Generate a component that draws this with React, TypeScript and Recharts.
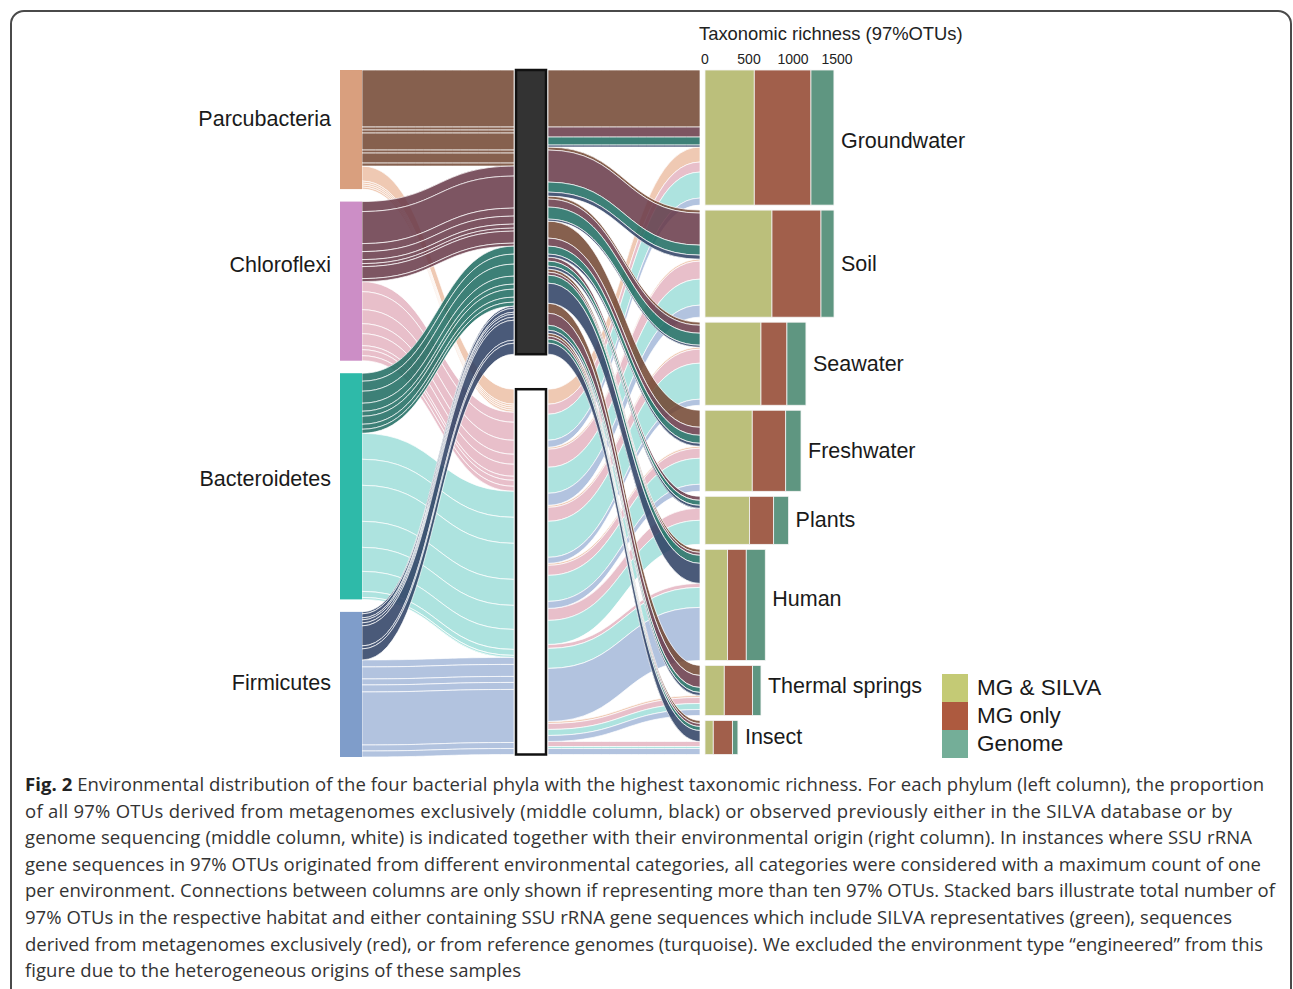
import React from 'react';
import { Sankey, ComposedChart, XAxis, YAxis, Line } from 'recharts';

// ---------------- data ----------------
const PHYLA = ['Parcubacteria', 'Chloroflexi', 'Bacteroidetes', 'Firmicutes'];
const STATUS = ['MG only', 'Known (SILVA / genome)'];
const ENVIRONMENTS = ['Groundwater', 'Soil', 'Seawater', 'Freshwater', 'Plants', 'Human', 'Thermal springs', 'Insect'];

// 97% OTUs per environment: derived exclusively from metagenomes (black middle node)
const PARC_MG_ONLY = [570, 30, 30, 170, 0, 30, 100, 30];
const CHLO_MG_ONLY = [100, 320, 80, 80, 40, 30, 120, 30];
const BACT_MG_ONLY = [80, 100, 120, 80, 50, 80, 50, 40];
const FIRM_MG_ONLY = [20, 40, 20, 30, 30, 200, 30, 110];
// 97% OTUs per environment: observed before in SILVA or genomes (white middle node)
const PARC_KNOWN = [150, 20, 20, 20, 0, 0, 20, 0];
const CHLO_KNOWN = [100, 180, 140, 100, 120, 40, 60, 50];
const BACT_KNOWN = [260, 260, 360, 260, 240, 200, 60, 20];
const FIRM_KNOWN = [70, 120, 60, 70, 0, 530, 60, 60];

// Taxonomic richness (97% OTUs) per environment
const RICH_MG_SILVA = [560, 761, 636, 537, 507, 257, 219, 94];
const RICH_MG_ONLY = [644, 557, 295, 380, 273, 212, 322, 219];
const RICH_GENOME = [261, 148, 216, 174, 170, 216, 95, 61];

const RICH_TICKS = [0, 500, 1000, 1500];
const RICH_SERIES = ['MG & SILVA', 'MG only', 'Genome'];

const CAPTION_LINES = [
  'Environmental distribution of the four bacterial phyla with the highest taxonomic richness. For each phylum (left column), the proportion',
  'of all 97% OTUs derived from metagenomes exclusively (middle column, black) or observed previously either in the SILVA database or by',
  'genome sequencing (middle column, white) is indicated together with their environmental origin (right column). In instances where SSU rRNA',
  'gene sequences in 97% OTUs originated from different environmental categories, all categories were considered with a maximum count of one',
  'per environment. Connections between columns are only shown if representing more than ten 97% OTUs. Stacked bars illustrate total number of',
  '97% OTUs in the respective habitat and either containing SSU rRNA gene sequences which include SILVA representatives (green), sequences',
  'derived from metagenomes exclusively (red), or from reference genomes (turquoise). We excluded the environment type \u201Cengineered\u201D from this',
  'figure due to the heterogeneous origins of these samples',
];

// ---------------- styles ----------------
const FONT = '"Liberation Sans", Arial, Helvetica, sans-serif';
const PHYLUM_COLORS = ['#d99f7e', '#cc8ec6', '#2ebaa9', '#7f9dca'];
const DARK_LINK = ['#71442f', '#663747', '#1b6a5f', '#2a3d62'];
const LIGHT_LINK = ['#ecbfa6', '#e4b4c1', '#9fded9', '#a4b8d9'];
const BAR_COLORS = ['#bbbf7b', '#a15f4b', '#5f9681'];
const LEGEND_COLORS = ['#c4ca75', '#ad5a3f', '#74ae98'];
const LEFT_LABEL_NUDGE: Record<string, number> = { Parcubacteria: -11, Chloroflexi: -16, Bacteroidetes: -7, Firmicutes: -1 };
const RIGHT_LABEL_NUDGE: Record<string, number> = { Groundwater: 3, Human: -6, 'Thermal springs': -4 };
const CAPTION_WIDTHS = [1239, 1207, 1227, 1236, 1250, 1207, 1238, 496];

const AXIS_MAX = 1500;
const AXIS_PX = 132;
const BAR_OFFSET = 5;

const NODE_WIDTH = 34;
const NODE_PADDING = 2.5;
const LEFT_SPACERS = 4;
const MID_SPACERS = 13;
const RIGHT_SPACERS = 1;

// ---------------- sankey data build ----------------
const nodes: any[] = [];
const idx: Record<string, number> = {};
const addNode = (key: string, node: any) => {
  idx[key] = nodes.length;
  nodes.push(node);
};

PHYLA.forEach((p, i) => {
  if (i > 0) for (let k = 0; k < LEFT_SPACERS; k++) addNode(`ls${i}_${k}`, { name: '', kind: 'spacer' });
  addNode(p, { name: p, kind: 'phylum', color: PHYLUM_COLORS[i] });
});
addNode('MG', { name: STATUS[0], kind: 'status', dark: true });
for (let k = 0; k < MID_SPACERS; k++) addNode(`ms${k}`, { name: '', kind: 'spacer' });
addNode('KN', { name: STATUS[1], kind: 'status', dark: false });
ENVIRONMENTS.forEach((e, i) => {
  if (i > 0) for (let k = 0; k < RIGHT_SPACERS; k++) addNode(`rs${i}_${k}`, { name: '', kind: 'spacer' });
  addNode(e, { name: e, kind: 'env', env: i });
});

const links: any[] = [];
// invisible zero-width links that keep spacer nodes in their columns
PHYLA.forEach((_, i) => {
  if (i > 0) for (let k = 0; k < LEFT_SPACERS; k++) links.push({ source: idx[`ls${i}_${k}`], target: idx.MG, value: 0 });
});
for (let k = 0; k < MID_SPACERS; k++) {
  links.push({ source: idx[PHYLA[0]], target: idx[`ms${k}`], value: 0 });
  links.push({ source: idx[`ms${k}`], target: idx[ENVIRONMENTS[0]], value: 0 });
}
ENVIRONMENTS.forEach((_, i) => {
  if (i > 0) for (let k = 0; k < RIGHT_SPACERS; k++) links.push({ source: idx.MG, target: idx[`rs${i}_${k}`], value: 0 });
});

const FLOWS = [
  { phylum: 0, status: 'KN', values: PARC_KNOWN },
  { phylum: 1, status: 'KN', values: CHLO_KNOWN },
  { phylum: 2, status: 'KN', values: BACT_KNOWN },
  { phylum: 3, status: 'KN', values: FIRM_KNOWN },
  { phylum: 0, status: 'MG', values: PARC_MG_ONLY },
  { phylum: 1, status: 'MG', values: CHLO_MG_ONLY },
  { phylum: 2, status: 'MG', values: BACT_MG_ONLY },
  { phylum: 3, status: 'MG', values: FIRM_MG_ONLY },
];
FLOWS.forEach((f) => {
  const color = f.status === 'MG' ? DARK_LINK[f.phylum] : LIGHT_LINK[f.phylum];
  f.values.forEach((v) => {
    if (v > 0) links.push({ source: idx[PHYLA[f.phylum]], target: idx[f.status], value: v, color });
  });
  f.values.forEach((v, e) => {
    if (v > 0) links.push({ source: idx[f.status], target: idx[ENVIRONMENTS[e]], value: v, color });
  });
});

const SANKEY_DATA = { nodes, links };
const RICH = [RICH_MG_SILVA, RICH_MG_ONLY, RICH_GENOME];
const AXIS_DATA = RICH_TICKS.map((t) => ({ v: t }));

// ---------------- renderers ----------------
function SankeyNode(props: any) {
  const { x, y, width, height, payload } = props;
  if (!payload || payload.kind === 'spacer') return <g />;
  if (payload.kind === 'phylum') {
    const nudge = LEFT_LABEL_NUDGE[payload.name] || 0;
    return (
      <g>
        <rect x={x + 12} y={y} width={width - 12} height={height} fill={payload.color} />
        <text
          x={x + 3}
          y={y + height / 2 + nudge}
          textAnchor="end"
          dominantBaseline="central"
          fontFamily={FONT}
          fontSize={21.5}
          fill="#1a1a1a"
        >
          {payload.name}
        </text>
      </g>
    );
  }
  if (payload.kind === 'status') {
    return (
      <rect
        x={x + 2}
        y={y}
        width={width - 4}
        height={height}
        fill={payload.dark ? '#333333' : '#ffffff'}
        stroke="#111"
        strokeWidth={2.5}
      />
    );
  }
  // environment: stacked richness bar
  const e = payload.env;
  const scale = AXIS_PX / AXIS_MAX;
  let cx = x + BAR_OFFSET;
  const rects = RICH.map((series, s) => {
    const w = series[e] * scale;
    const r = <rect key={s} x={cx} y={y} width={w} height={height} fill={BAR_COLORS[s]} stroke="#f4f4f4" strokeWidth={0.8} />;
    cx += w;
    return r;
  });
  const nudge = RIGHT_LABEL_NUDGE[payload.name] || 0;
  return (
    <g>
      {rects}
      <text
        x={cx + 7}
        y={y + height / 2 + nudge}
        textAnchor="start"
        dominantBaseline="central"
        fontFamily={FONT}
        fontSize={21.5}
        fill="#1a1a1a"
      >
        {payload.name}
      </text>
    </g>
  );
}

function SankeyLink(props: any) {
  const { sourceX, sourceY, targetX, targetY, sourceControlX, targetControlX, linkWidth, payload } = props;
  if (!payload || !payload.value || !(linkWidth > 0)) return <g />;
  const h = linkWidth / 2;
  const d =
    `M${sourceX},${sourceY - h} C${sourceControlX},${sourceY - h} ${targetControlX},${targetY - h} ${targetX},${targetY - h} ` +
    `L${targetX},${targetY + h} C${targetControlX},${targetY + h} ${sourceControlX},${sourceY + h} ${sourceX},${sourceY + h} Z`;
  return <path d={d} fill={payload.color} fillOpacity={0.85} stroke="#ffffff" strokeWidth={0.7} />;
}

// ---------------- app ----------------
export default function App() {
  const sankeyWidth = 1293;
  const sankeyHeight = 770;
  const left = 328;
  const inner = 406;
  return (
    <div style={{ position: 'absolute', left: 0, top: 0, width: 1293, height: 989, overflow: 'hidden', background: '#fff' }}>
      <div
        style={{
          position: 'absolute',
          left: 10,
          top: 10,
          width: 1282,
          height: 1010,
          boxSizing: 'border-box',
          border: '2px solid #4a4a4a',
          borderRadius: 14,
        }}
      />
      <div style={{ position: 'absolute', left: 0, top: 0 }}>
        <Sankey
          width={sankeyWidth}
          height={sankeyHeight}
          data={SANKEY_DATA}
          margin={{ top: 70, left, right: sankeyWidth - left - inner, bottom: sankeyHeight - 70 - 687 }}
          nodeWidth={NODE_WIDTH}
          nodePadding={NODE_PADDING}
          iterations={0}
          node={(p: any) => <SankeyNode {...p} />}
          link={(p: any) => <SankeyLink {...p} />}
        />
      </div>

      {/* richness axis */}
      <div
        style={{
          position: 'absolute',
          left: 699,
          top: 24,
          fontFamily: FONT,
          fontSize: 18.4,
          lineHeight: '20px',
          color: '#222',
          whiteSpace: 'nowrap',
        }}
      >
        Taxonomic richness (97%OTUs)
      </div>
      <div style={{ position: 'absolute', left: 705 - 40, top: 0 }}>
        <ComposedChart width={AXIS_PX + 80} height={90} data={AXIS_DATA} margin={{ top: 42, right: 40, left: 40, bottom: 0 }}>
          <XAxis
            dataKey="v"
            type="number"
            domain={[0, AXIS_MAX]}
            ticks={RICH_TICKS}
            orientation="top"
            height={30}
            axisLine={false}
            tickLine={false}
            interval={0}
            tick={{ fontSize: 14, fill: '#222', fontFamily: FONT }}
          />
          <YAxis hide />
          <Line dataKey="v" stroke="none" dot={false} isAnimationActive={false} />
        </ComposedChart>
      </div>

      {/* legend */}
      {RICH_SERIES.map((s, i) => (
        <div key={s} style={{ position: 'absolute', left: 942, top: 674 + i * 28 }}>
          <div style={{ position: 'absolute', left: 0, top: 0, width: 26, height: 28, background: LEGEND_COLORS[i] }} />
          <div
            style={{
              position: 'absolute',
              left: 35,
              top: 1,
              fontFamily: FONT,
              fontSize: 22.5,
              lineHeight: '26px',
              color: '#1a1a1a',
              whiteSpace: 'nowrap',
            }}
          >
            {s}
          </div>
        </div>
      ))}

      {/* caption */}
      <svg style={{ position: 'absolute', left: 0, top: 760 }} width={1293} height={229}>
        {CAPTION_LINES.map((line, i) => (
          <text
            key={i}
            x={25}
            y={31 + i * 26.6}
            fontFamily='"Open Sans", "Noto Sans", sans-serif'
            fontSize={18.5}
            fill="#333"
            textLength={CAPTION_WIDTHS[i]}
            lengthAdjust="spacing"
          >
            {i === 0 ? (
              <>
                <tspan fontWeight="bold" fill="#222">Fig. 2</tspan>
                <tspan> {line}</tspan>
              </>
            ) : (
              line
            )}
          </text>
        ))}
      </svg>
    </div>
  );
}
